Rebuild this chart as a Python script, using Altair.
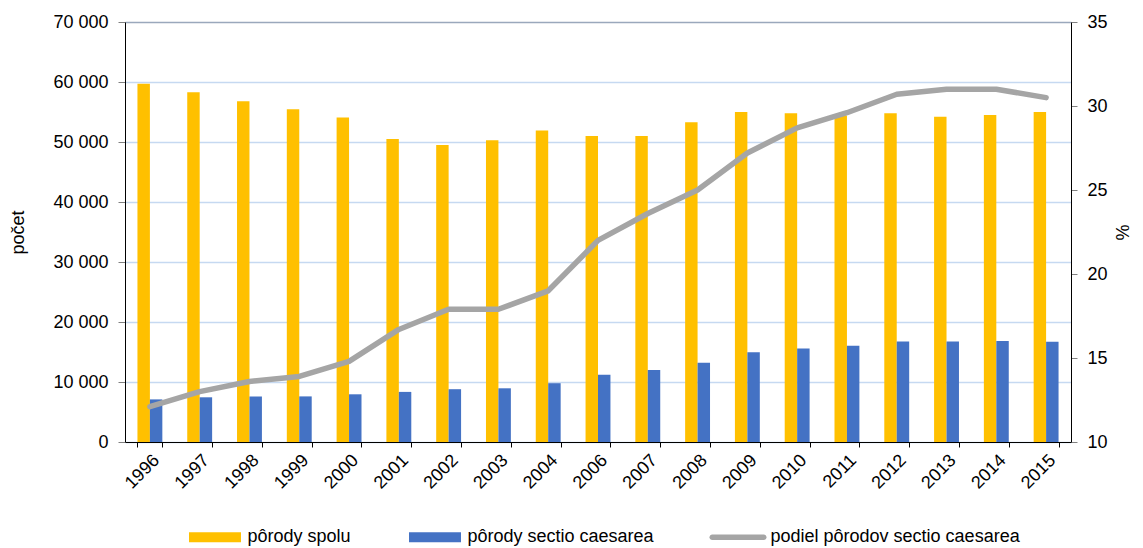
import altair as alt
import pandas as pd

years = ["1996", "1997", "1998", "1999", "2000", "2001", "2002", "2003", "2004", "2006",
         "2007", "2008", "2009", "2010", "2011", "2012", "2013", "2014", "2015"]
porody_spolu = [59700, 58300, 56800, 55450, 54100, 50500, 49500, 50300, 51900, 51000,
                51000, 53300, 55000, 54800, 54400, 54800, 54200, 54500, 55000]
porody_sectio = [7100, 7450, 7600, 7600, 7950, 8350, 8800, 8950, 9800, 11200,
                 12000, 13200, 14950, 15600, 16050, 16750, 16750, 16850, 16700]
podiel = [12.1, 13.0, 13.6, 13.9, 14.8, 16.7, 17.9, 17.9, 19.0, 22.0,
          23.6, 25.0, 27.2, 28.7, 29.6, 30.7, 31.0, 31.0, 30.5]

s1 = "pôrody spolu"
s2 = "pôrody sectio caesarea"
s3 = "podiel pôrodov sectio caesarea"
series = [s1, s2, s3]
colors = ["#FFC000", "#4472C4", "#A5A5A5"]

RECT = "M-0.912,-0.175H0.912V0.175H-0.912Z"
LINE = ("M-0.9035,-0.0965H0.9035A0.0965,0.0965 0 0 1 0.9035,0.0965"
        "H-0.9035A0.0965,0.0965 0 0 1 -0.9035,-0.0965Z")

bars = pd.DataFrame(
    [{"rok": y, "seria": s1, "hodnota": v} for y, v in zip(years, porody_spolu)]
    + [{"rok": y, "seria": s2, "hodnota": v} for y, v in zip(years, porody_sectio)]
)
line = pd.DataFrame({"rok": years, "podiel": podiel, "seria": s3})

FONT = "Liberation Sans"
FS = 18

color_scale = alt.Scale(domain=series, range=colors)
legend = alt.Legend(
    orient="none", legendX=61.5, legendY=486.5, direction="horizontal", title=None,
    symbolSize=3249, symbolStrokeWidth=0, symbolOpacity=1, padding=0,
    labelFont=FONT, labelFontSize=FS, labelColor="#000000", labelOffset=4,
    columnPadding=55, labelLimit=500,
)

xenc = alt.X(
    "rok:N", sort=years, title=None,
    scale=alt.Scale(paddingInner=0.5, paddingOuter=0.25),
    axis=alt.Axis(tickBand="extent", domainColor="#000000", tickColor="#000000",
                  tickSize=5, labelAngle=-45, labelFont=FONT, labelFontSize=FS,
                  labelColor="#000000", labelPadding=4, labelOverlap=False, grid=False),
)

bar_layer = alt.Chart(bars).mark_bar().encode(
    x=xenc,
    xOffset=alt.XOffset("seria:N", sort=[s1, s2]),
    y=alt.Y("hodnota:Q",
            scale=alt.Scale(domain=[0, 70000]),
            axis=alt.Axis(values=list(range(0, 70001, 10000)), title="počet",
                          labelExpr="replace(format(datum.value, ','), ',', ' ')",
                          gridColor={"condition": {"test": "datum.value === 70000", "value": "#9AA8BC"},
                                     "value": "#C6D9F1"},
                          gridWidth=1.5,
                          domainColor="#000000", tickColor="#808080", tickSize=7,
                          labelFont=FONT, labelFontSize=FS, labelColor="#000000", labelPadding=10,
                          titleFont=FONT, titleFontSize=FS, titleFontWeight="normal",
                          titleColor="#000000", titlePadding=25)),
    color=alt.Color("seria:N", scale=color_scale, legend=legend),
)

line_layer = alt.Chart(line).mark_line(strokeWidth=5.5, strokeJoin="round", strokeCap="round").encode(
    x=alt.X("rok:N", sort=years),
    y=alt.Y("podiel:Q",
            scale=alt.Scale(domain=[10, 35]),
            axis=alt.Axis(orient="right", values=list(range(10, 36, 5)), title="%", grid=False,
                          domainColor="#000000", tickColor="#808080", tickSize=6,
                          labelFont=FONT, labelFontSize=FS, labelColor="#000000", labelPadding=10,
                          titleFont=FONT, titleFontSize=FS, titleFontWeight="normal",
                          titleColor="#000000", titlePadding=4)),
    color=alt.Color("seria:N", scale=color_scale, legend=legend),
)

legend_layer = alt.Chart(line).transform_filter("false").mark_point(
    filled=True, opacity=1
).encode(
    x=alt.X("rok:N", sort=years),
    color=alt.Color("seria:N", scale=color_scale, legend=legend),
    shape=alt.Shape("seria:N", scale=alt.Scale(domain=series, range=[RECT, RECT, LINE]), legend=legend),
)

chart = alt.layer(bar_layer, line_layer, legend_layer).resolve_scale(
    y="independent"
).properties(
    width=946, height=420,
    autosize=alt.AutoSizeParams(type="none"),
    padding={"left": 117, "top": 14, "right": 64, "bottom": 106},
).configure_view(stroke=None)

chart.save("out.html", embed_options={"renderer": "svg", "actions": False})
